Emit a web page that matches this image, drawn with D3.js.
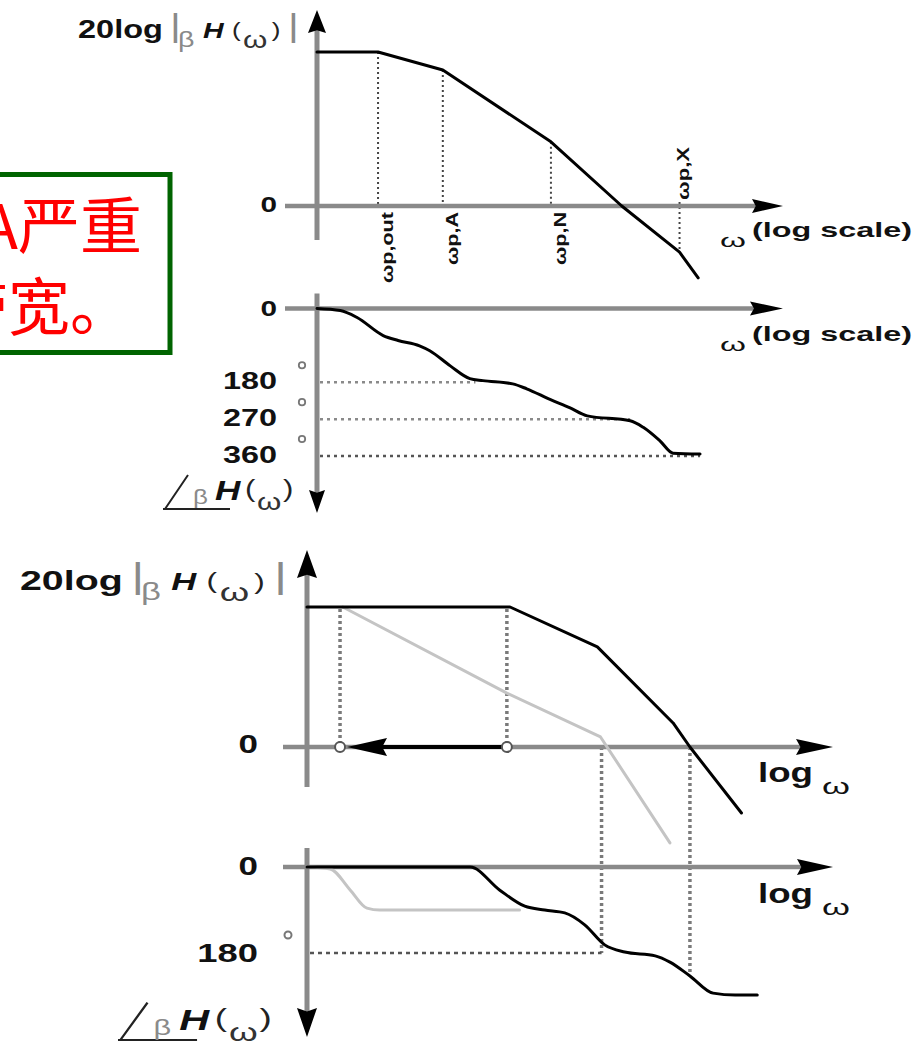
<!DOCTYPE html>
<html>
<head>
<meta charset="utf-8">
<title>Bode plots - pole splitting</title>
<style>
	body { margin: 0; background: #fff; }
	svg { display: block; background: #fff; }
	.curve { fill: none; stroke: #000; stroke-width: 3; stroke-linejoin: round; stroke-linecap: round; }
	.curve.grey { stroke: #c4c4c4; }
	.lbl { font-family: "Liberation Sans", Arial, Helvetica, sans-serif; fill: #111; }
	.num { font-family: "Liberation Sans", Arial, Helvetica, sans-serif; font-weight: bold; fill: #111; text-anchor: end; }
	.note { font-family: "Noto Sans CJK SC", sans-serif; fill: #ff0000; text-anchor: end; }
</style>
</head>
<body>
<svg id="chart" width="922" height="1048"></svg>
<script src="https://cdn.jsdelivr.net/npm/d3@7"></script>
<script>
	// ---- upper pair: omega in decades (log scale), |bH| in dB, phase in degrees
	var topPoles   = ["ωp,out", "ωp,A", "ωp,N", "ωp,X"];
	var topPoleW   = [0.655, 1.35, 2.51, 3.89];
	var topMagW    = [0, 0.655, 1.35, 2.51, 3.27, 3.89, 4.09];
	var topMagDb   = [60, 60, 53, 25, 0, -18, -28];
	var topPhW     = [0, 0.25, 0.43, 0.71, 0.87, 1.1, 1.21, 1.43, 1.64, 1.78, 2.1, 2.25, 2.5, 2.71, 2.9, 3.36, 3.5, 3.68, 3.82, 4.11];
	var topPhDeg   = [0, 5, 22, 66, 78, 91, 103, 140, 171, 176, 184, 196, 222, 242, 262, 274, 290, 323, 353, 355];
	var topPhTicks = [0, 180, 270, 360];
	var topPhGuideEnd = [0, 1.7, 3.36, 4.11];

	// ---- lower pair: after compensation (black) vs before (grey)
	var botMagW      = [0, 1.93, 2.76, 3.48, 3.64, 4.13];
	var botMagDb     = [60, 60, 42.9, 10.3, 0, -28.3];
	var botMagGreyW  = [0.34, 1.90, 2.79, 3.45];
	var botMagGreyDb = [60, 23.1, 4.3, -41.1];
	var botPhW       = [0, 1.55, 1.83, 2.07, 2.26, 2.45, 2.64, 2.83, 3.02, 3.31, 3.45, 3.64, 3.86, 4.07, 4.28];
	var botPhDeg     = [0, 0, 48, 82, 90, 96, 121, 163, 178, 186, 199, 228, 264, 268, 268];
	var botPhGreyW   = [0, 0.22, 0.41, 0.57, 0.69, 2.02];
	var botPhGreyDeg = [0, 4, 48, 86, 90, 90];
	var botPhTicks   = [0, 180];
	var movedPoleW   = [1.90, 0.314];   // dominant pole moved from -> to
	var crossW       = [2.80, 3.64];    // gain crossover grey / black
	var crossDeg     = [180, 226];

	var noteLines = ["A严重", "带宽。"];

	var svg = d3.select("#chart");

	var xT  = d3.scaleLinear().domain([0, 5]).range([317, 783]);
	var magT = d3.scaleLinear().domain([0, 60]).range([206, 52]);
	var phT = d3.scaleLinear().domain([0, 360]).range([308.5, 456]);
	var xB  = d3.scaleLinear().domain([0, 5]).range([307, 833]);
	var magB = d3.scaleLinear().domain([0, 60]).range([747, 607]);
	var phB = d3.scaleLinear().domain([0, 180]).range([867, 953]);

	function seg(x1, y1, x2, y2, stroke, width, dash) {
		return svg.append("line")
			.attr("x1", x1).attr("y1", y1).attr("x2", x2).attr("y2", y2)
			.attr("stroke", stroke).attr("stroke-width", width)
			.attr("stroke-dasharray", dash || null);
	}

	function head(x, y, dir, len, hw) {
		var rot = {r: 0, l: 180, u: -90, d: 90}[dir];
		svg.append("path")
			.attr("d", `M0,0L${-len},${-hw}L${-len * 0.88},0L${-len},${hw}Z`)
			.attr("transform", `translate(${x},${y}) rotate(${rot})`)
			.attr("fill", "#000");
	}

	// magnitude curves are straight asymptote pieces, phase curves are smooth
	function curve(xs, ys, w, v, cls, smooth) {
		var pts = w.map((d, i) => [xs(d), ys(v[i])]);
		svg.append("path")
			.attr("class", "curve " + (cls || ""))
			.attr("d", d3.line().curve(smooth ? d3.curveMonotoneX : d3.curveLinear)(pts));
	}

	// ---- note box (clipped at the left edge)
	svg.append("rect")
		.attr("x", -10).attr("y", 174.5).attr("width", 180).attr("height", 178)
		.attr("fill", "#fff").attr("stroke", "#006400").attr("stroke-width", 5);
	svg.selectAll(".note").data(noteLines).enter().append("text")
		.attr("class", "note")
		.attr("x", (d, i) => i == 0 ? 142 : 132)
		.attr("y", (d, i) => i == 0 ? 249 : 330)
		.attr("font-size", 62)
		.text(d => d);

	// ================= upper magnitude =================
	topPoleW.forEach(function(w, i) {
		var db = topMagDb[topMagW.indexOf(w)];
		var y1 = i < 3 ? magT(db) : magT(0) - 4;
		var y2 = i < 3 ? magT(0) : magT(db);
		seg(xT(w), y1, xT(w), y2, "#444", 2, "2,3");
	});
	seg(xT(0), magT(0) + 34, xT(0), 22, "#8a8a8a", 5);
	head(xT(0), 10, "u", 23, 9);
	seg(xT(0) - 32, magT(0), xT(5) - 20, magT(0), "#8a8a8a", 4.5);
	head(xT(5), magT(0), "r", 31, 7);
	curve(xT, magT, topMagW, topMagDb);

	svg.selectAll(".pole").data(topPoles).enter().append("text")
		.attr("class", "lbl pole")
		.attr("font-size", 16).attr("font-weight", "bold")
		.attr("text-anchor", (d, i) => i < 3 ? "end" : "start")
		.attr("textLength", (d, i) => i == 0 ? 71 : 53)
		.attr("lengthAdjust", "spacingAndGlyphs")
		.attr("transform", (d, i) => `translate(${xT(topPoleW[i]) + (i < 3 ? 15 : 9)},${i < 3 ? magT(0) + 6 : magT(0) - 6}) rotate(-90)`)
		.text(d => d);

	svg.append("text").attr("class", "num").attr("font-size", 22)
		.attr("transform", `translate(${xT(0) - 40},${magT(0) + 6}) scale(1.35,1)`).text("0");

	function omegaLabel(x, y, dy) {
		svg.append("text").attr("class", "lbl").attr("x", x - 32).attr("y", y + dy + 10)
			.attr("font-size", 18).attr("fill", "#333")
			.attr("textLength", 26).attr("lengthAdjust", "spacingAndGlyphs").text("ω");
		svg.append("text").attr("class", "lbl").attr("x", x).attr("y", y + dy)
			.attr("font-size", 21).attr("font-weight", "bold")
			.attr("textLength", 160).attr("lengthAdjust", "spacingAndGlyphs").text("(log scale)");
	}
	omegaLabel(752, magT(0), 31);

	// 20log|bH(w)| label
	function magLabel(ox, oy, kx, ky) {
		var parts = [
			{t: "20log", x: 0,     y: 0,    fs: 25, w: "bold", c: "#111"},
			{t: "|",     x: 70.8,  y: -2,   fs: 32, c: "#8a8a8a"},
			{t: "β",     x: 76.9,  y: 9,    fs: 22, c: "#8a8a8a"},
			{t: "H",     x: 96.2,  y: 0,    fs: 22, w: "bold", s: "italic", c: "#111"},
			{t: "(",     x: 118.5, y: -1.5, fs: 20, c: "#222"},
			{t: "ω",     x: 127,   y: 10,   fs: 24, c: "#333"},
			{t: ")",     x: 149,   y: -1,   fs: 20, c: "#222"},
			{t: "|",     x: 161.5, y: -2,   fs: 32, c: "#8a8a8a"}
		];
		var t = svg.append("text").attr("class", "lbl")
			.attr("transform", `translate(${ox},${oy}) scale(${1.3 * kx},${ky})`);
		parts.forEach(function(p) {
			t.append("tspan").attr("x", p.x).attr("y", p.y).attr("font-size", p.fs)
				.attr("font-weight", p.w || "normal").attr("font-style", p.s || "normal")
				.attr("fill", p.c).text(p.t);
		});
	}
	magLabel(78, 38, 1, 1);

	// angle label  /_bH(w)
	function angLabel(ox, oy, kx, ky) {
		var g = svg.append("g").attr("transform", `translate(${ox},${oy}) scale(${kx},${ky})`);
		g.append("path").attr("d", "M2,0L25,-34M0,0L67,0")
			.attr("stroke", "#222").attr("stroke-width", 2).attr("fill", "none");
		var parts = [
			{t: "β", x: 30,  y: -5,  fs: 20, c: "#8a8a8a"},
			{t: "H", x: 52,  y: -9,  fs: 27, w: "bold", s: "italic", c: "#111"},
			{t: "(", x: 82,  y: -12, fs: 24, c: "#222"},
			{t: "ω", x: 94,  y: 1,   fs: 24, c: "#333"},
			{t: ")", x: 120, y: -12, fs: 24, c: "#222"}
		];
		var t = g.append("text").attr("class", "lbl").attr("transform", "scale(1.3,1)");
		parts.forEach(function(p) {
			t.append("tspan").attr("x", p.x / 1.3).attr("y", p.y).attr("font-size", p.fs)
				.attr("font-weight", p.w || "normal").attr("font-style", p.s || "normal")
				.attr("fill", p.c).text(p.t);
		});
	}

	// ================= upper phase =================
	topPhTicks.forEach(function(v, i) {
		if (v > 0) {
			seg(xT(0) + 3, phT(v), xT(topPhGuideEnd[i]), phT(v), v == 360 ? "#555" : "#8a8a8a", 2.5, "3,4");
			svg.append("circle").attr("cx", xT(0) - 15).attr("cy", phT(v) - 17).attr("r", 3.2)
				.attr("fill", "none").attr("stroke", "#777").attr("stroke-width", 1.8);
		}
		svg.append("text").attr("class", "num").attr("font-size", v ? 24 : 22)
			.attr("transform", `translate(${xT(0) - 40},${phT(v) + 7}) scale(1.35,1)`).text(v);
	});
	seg(xT(0) - 32, phT(0), xT(5) - 20, phT(0), "#8a8a8a", 4.5);
	head(xT(5), phT(0), "r", 33, 7);
	seg(xT(0), phT(0) - 15, xT(0), phT(360) + 40, "#8a8a8a", 5);
	head(xT(0), phT(360) + 57, "d", 23, 8);
	curve(xT, phT, topPhW, topPhDeg, "", true);
	omegaLabel(752, phT(0), 32);
	angLabel(163, 509, 1, 1);

	// ================= lower magnitude =================
	movedPoleW.forEach(function(w) {
		seg(xB(w), magB(60) + 2, xB(w), magB(0), "#7a7a7a", 3.5, "3,3");
	});
	crossW.forEach(function(w, i) {
		seg(xB(w), magB(0), xB(w), phB(crossDeg[i]), "#7a7a7a", 3.5, "3,3");
	});
	seg(xB(0), magB(0) + 40, xB(0), 566, "#8a8a8a", 5);
	head(xB(0), 550, "u", 28, 10);
	seg(xB(0) - 24, magB(0), xB(5) - 20, magB(0), "#8a8a8a", 4.5);
	head(xB(5), magB(0), "r", 37, 8);

	curve(xB, magB, botMagGreyW, botMagGreyDb, "grey");
	curve(xB, magB, botMagW, botMagDb);

	// pole moving arrow along 0 dB
	seg(xB(movedPoleW[0]), magB(0), xB(movedPoleW[1]) + 30, magB(0), "#000", 4);
	head(xB(movedPoleW[1]) + 7, magB(0), "l", 40, 9);
	movedPoleW.forEach(function(w) {
		svg.append("circle").attr("cx", xB(w)).attr("cy", magB(0)).attr("r", 5)
			.attr("fill", "#fff").attr("stroke", "#555").attr("stroke-width", 2);
	});

	svg.append("text").attr("class", "num").attr("font-size", 25)
		.attr("transform", `translate(${xB(0) - 49},${magB(0) + 6}) scale(1.4,1)`).text("0");

	function logLabel(y) {
		svg.append("text").attr("class", "lbl").attr("x", 758).attr("y", y)
			.attr("font-size", 27).attr("font-weight", "bold")
			.attr("textLength", 55).attr("lengthAdjust", "spacingAndGlyphs").text("log");
		svg.append("text").attr("class", "lbl").attr("x", 822).attr("y", y + 12)
			.attr("font-size", 22).attr("fill", "#555")
			.attr("textLength", 28).attr("lengthAdjust", "spacingAndGlyphs").text("ω");
	}
	logLabel(magB(0) + 35);
	magLabel(20, 590, 1.21, 1.1);

	// ================= lower phase =================
	seg(xB(0) + 3, phB(180), xB(crossW[0]), phB(180), "#555", 2.5, "4,4");
	svg.append("circle").attr("cx", xB(0) - 19).attr("cy", phB(180) - 18).attr("r", 3.5)
		.attr("fill", "none").attr("stroke", "#777").attr("stroke-width", 2);
	botPhTicks.forEach(function(v) {
		svg.append("text").attr("class", "num").attr("font-size", v ? 26 : 25)
			.attr("transform", `translate(${xB(0) - 49},${phB(v) + (v ? 9 : 8)}) scale(1.4,1)`).text(v);
	});
	seg(xB(0) - 24, phB(0), xB(5) - 20, phB(0), "#8a8a8a", 4.5);
	head(xB(5), phB(0), "r", 36, 8);
	seg(xB(0), phB(0) - 19, xB(0), phB(180) + 62, "#8a8a8a", 5);
	head(xB(0), phB(180) + 84, "d", 29, 10);

	curve(xB, phB, botPhGreyW, botPhGreyDeg, "grey", true);
	curve(xB, phB, botPhW, botPhDeg, "", true);
	logLabel(phB(0) + 36);
	angLabel(118, 1040, 1.18, 1.1);
</script>
</body>
</html>
